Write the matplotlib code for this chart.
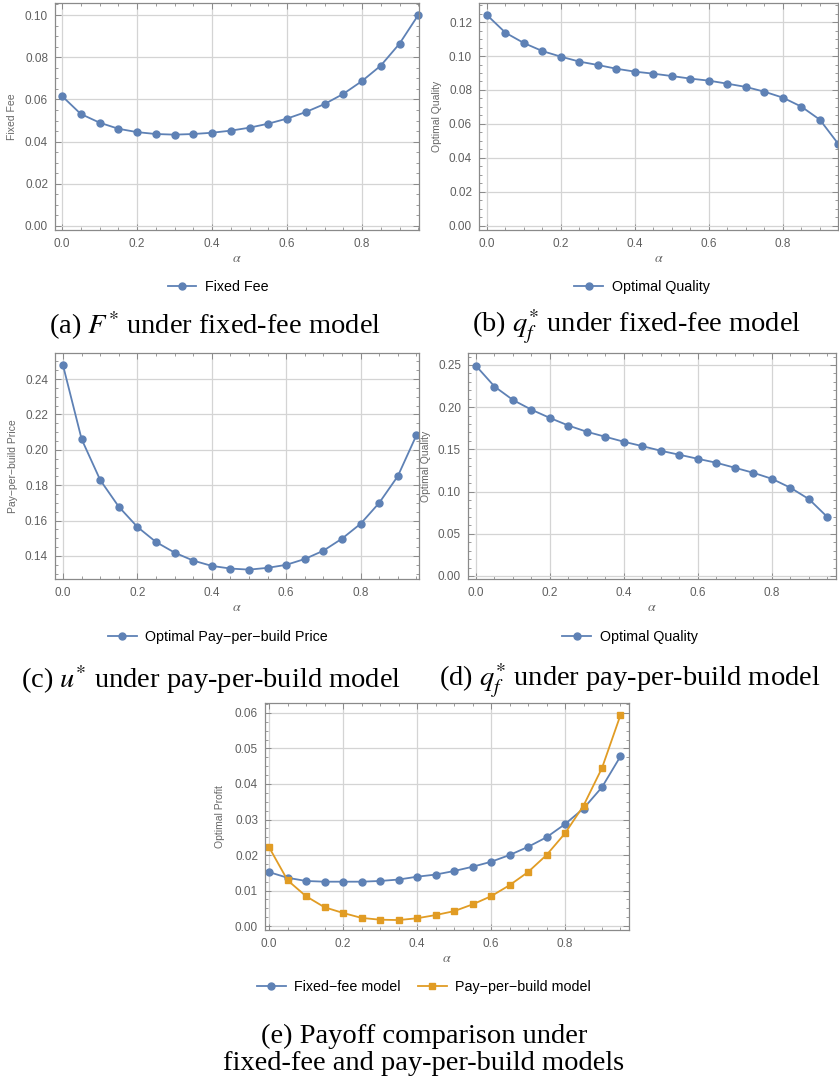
import numpy as np
import matplotlib
matplotlib.use("Agg")
import matplotlib.pyplot as plt
from matplotlib.ticker import MultipleLocator, FormatStrFormatter

plt.rcParams['font.family'] = ['Liberation Sans', 'DejaVu Sans']
plt.rcParams['mathtext.fontset'] = 'stix'

# alpha-Werte (0.00 ... 0.95)
alpha = [0.00, 0.05, 0.10, 0.15, 0.20, 0.25, 0.30, 0.35, 0.40, 0.45,
         0.50, 0.55, 0.60, 0.65, 0.70, 0.75, 0.80, 0.85, 0.90, 0.95]

# (a) Fixed Fee
fixed_fee = [0.0616, 0.0531, 0.0490, 0.0461, 0.0445, 0.0436, 0.0433, 0.0436, 0.0442, 0.0452,
             0.0466, 0.0485, 0.0509, 0.0540, 0.0578, 0.0626, 0.0687, 0.0760, 0.0864, 0.1000]
# (b) Optimal Quality (fixed-fee)
quality_ff = [0.1241, 0.1137, 0.1076, 0.1029, 0.0996, 0.0967, 0.0947, 0.0925, 0.0908, 0.0896,
              0.0882, 0.0867, 0.0855, 0.0837, 0.0818, 0.0790, 0.0755, 0.0702, 0.0625, 0.0482]
# (c) Optimal Pay-per-build Price
ppb_price = [0.2477, 0.2060, 0.1829, 0.1678, 0.1564, 0.1479, 0.1419, 0.1374, 0.1344, 0.1329,
             0.1323, 0.1333, 0.1350, 0.1383, 0.1430, 0.1498, 0.1582, 0.1700, 0.1851, 0.2082]
# (d) Optimal Quality (pay-per-build)
quality_ppb = [0.2490, 0.2245, 0.2085, 0.1970, 0.1872, 0.1782, 0.1708, 0.1649, 0.1590, 0.1538,
               0.1483, 0.1436, 0.1388, 0.1341, 0.1282, 0.1222, 0.1151, 0.1045, 0.0910, 0.0697]
# (e) Optimal Profit
profit_ff = [0.0152, 0.0136, 0.0127, 0.0125, 0.0125, 0.0125, 0.0127, 0.0131, 0.0139, 0.0145,
             0.0155, 0.0167, 0.0181, 0.0200, 0.0223, 0.0250, 0.0287, 0.0331, 0.0391, 0.0478]
profit_ppb = [0.0222, 0.0129, 0.0084, 0.0053, 0.0037, 0.0023, 0.0018, 0.0017, 0.0022, 0.0031,
              0.0042, 0.0061, 0.0084, 0.0115, 0.0152, 0.0200, 0.0261, 0.0339, 0.0445, 0.0594]

BLUE = '#5e81b5'
ORANGE = '#e19c24'
W, H = 839, 1085

fig = plt.figure(figsize=(W / 100, H / 100), dpi=100)


def make_axes(l, t, r, b):
    # Pixel-Koordinaten -> Figure-Koordinaten
    return fig.add_axes([l / W, 1 - b / H, (r - l) / W, (b - t) / H])


def style(ax, xlim, ylim, ymaj, ymin, ylabel, ylab_x):
    ax.set_xlim(*xlim)
    ax.set_ylim(*ylim)
    ax.xaxis.set_major_locator(MultipleLocator(0.2))
    ax.xaxis.set_minor_locator(MultipleLocator(0.05))
    ax.yaxis.set_major_locator(MultipleLocator(ymaj))
    ax.yaxis.set_minor_locator(MultipleLocator(ymin))
    ax.xaxis.set_major_formatter(FormatStrFormatter('%.1f'))
    ax.yaxis.set_major_formatter(FormatStrFormatter('%.2f'))
    ax.grid(True, which='major', color='#d4d4d4', linewidth=0.9)
    ax.set_axisbelow(True)
    for s in ax.spines.values():
        s.set_color('#8a8a8a')
        s.set_linewidth(0.9)
    ax.tick_params(which='both', direction='in', top=True, right=True,
                   color='#8a8a8a', labelcolor='#606060', labelsize=8.5)
    ax.tick_params(which='major', length=4, width=0.7, pad=5)
    ax.tick_params(which='minor', length=2, width=0.6)
    ax.tick_params(axis='x', which='major', pad=6)
    ax.set_ylabel(ylabel, fontsize=7.5, color='#666666')
    ax.yaxis.set_label_coords(ylab_x, 0.5)
    ax.set_xlabel(r'$\alpha$', fontsize=10, color='#666666')
    ax.xaxis.set_label_coords(0.5, -0.125)
    ax.xaxis.label.set_va('center')


def legend_at(ax, cx, cy):
    ax.legend(loc='center', bbox_to_anchor=(cx / W, 1 - cy / H),
              bbox_transform=fig.transFigure, frameon=False, fontsize=10.3,
              handlelength=2.0, handletextpad=0.6, ncol=2, columnspacing=1.2)


line_kw = dict(linewidth=1.3, markersize=5)

# (a)
ax_a = make_axes(55, 3, 419, 230)
ax_a.plot(alpha, fixed_fee, '-o', color=BLUE, label='Fixed Fee', clip_on=False, **line_kw)
style(ax_a, (-0.0187, 0.952), (-0.0019, 0.1057), 0.02, 0.005, 'Fixed Fee', -0.105)
legend_at(ax_a, 218, 287)

# (b)
ax_b = make_axes(479, 3, 838, 230)
ax_b.plot(alpha, quality_ff, '-o', color=BLUE, label='Optimal Quality', **line_kw)
style(ax_b, (-0.0216, 0.949), (-0.0024, 0.1312), 0.02, 0.005, 'Optimal Quality', -0.103)
legend_at(ax_b, 642, 287)

# (c)
ax_c = make_axes(55, 353, 419, 579)
ax_c.plot(alpha, ppb_price, '-o', color=BLUE, label='Optimal Pay\u2212per\u2212build Price', **line_kw)
style(ax_c, (-0.0216, 0.957), (0.127, 0.2547), 0.02, 0.005, 'Pay\u2212per\u2212build Price', -0.103)
legend_at(ax_c, 218, 637)

# (d)
ax_d = make_axes(468, 353, 836, 579)
ax_d.plot(alpha, quality_ppb, '-o', color=BLUE, label='Optimal Quality', **line_kw)
style(ax_d, (-0.0216, 0.973), (-0.0036, 0.2642), 0.05, 0.01, 'Optimal Quality', -0.100)
legend_at(ax_d, 630, 637)

# (e)
ax_e = make_axes(265, 703, 629, 930)
ax_e.plot(alpha, profit_ff, '-o', color=BLUE, label='Fixed\u2212fee model', **line_kw)
ax_e.plot(alpha, profit_ppb, '-s', color=ORANGE, label='Pay\u2212per\u2212build model',
          linewidth=1.3, markersize=4)
style(ax_e, (-0.011, 0.973), (-0.0011, 0.0628), 0.01, 0.0025, 'Optimal Profit', -0.11)
legend_at(ax_e, 424, 987)

# Bildunterschriften
cap_kw = dict(ha='center', va='center', fontsize=20.5, family='Liberation Serif', color='black')
fig.text(215 / W, 1 - 326 / H, r'(a) $F^{*}$ under fixed-fee model', **cap_kw)
fig.text(637 / W, 1 - 326 / H, r'(b) $q_f^{*}$ under fixed-fee model', **cap_kw)
fig.text(211 / W, 1 - 680 / H, r'(c) $u^{*}$ under pay-per-build model', **cap_kw)
fig.text(630 / W, 1 - 680 / H, r'(d) $q_f^{*}$ under pay-per-build model', **cap_kw)
fig.text(424 / W, 1 - 1036 / H, '(e) Payoff comparison under', **cap_kw)
fig.text(424 / W, 1 - 1064 / H, 'fixed-fee and pay-per-build models', **cap_kw)

fig.savefig('out.png', dpi=100)
